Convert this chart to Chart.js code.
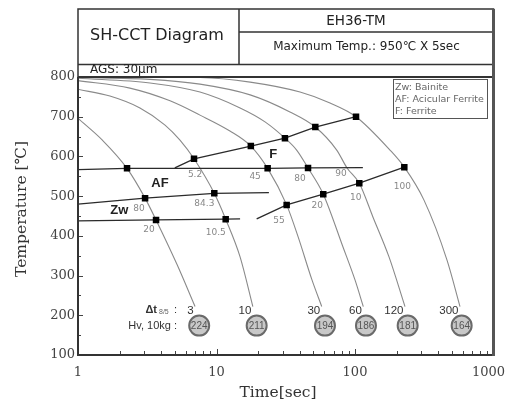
<!DOCTYPE html>
<html>
<head>
<meta charset="utf-8">
<script src="https://cdn.jsdelivr.net/npm/chart.js@4.4.1/dist/chart.umd.min.js"></script>
<style>
  body { margin: 0; background: #fff; }
  #chart { display: block; }
</style>
</head>
<body>
<canvas id="chart" width="506" height="403"></canvas>
<script>
// axis ticks
const timeTicks = [1, 10, 100, 1000];
const tempTicks = [100, 200, 300, 400, 500, 600, 700, 800];

// cooling curves (time in sec, temperature in C), one per dt 8/5
const dtLabels = ['3', '10', '30', '60', '120', '300'];
const curve3Time = [1, 1.5, 2.26, 3.05, 3.66, 5.2, 7.0];
const curve3Temp = [696, 641, 570, 495, 440, 327, 222];
const curve10Time = [1, 1.7, 2.8, 4.25, 5.45, 6.88, 9.64, 11.65, 14.8, 18.3];
const curve10Temp = [769, 752, 722, 679, 641, 594, 507, 442, 347, 222];
const curve30Time = [1, 2.37, 4.62, 7.6, 12.5, 17.7, 23.4, 32.1, 38.8, 48.9, 57.5];
const curve30Temp = [791, 772, 740, 704, 664, 626, 570, 478, 398, 289, 222];
const curve60Time = [1, 3.31, 7.6, 14.8, 22.4, 31.2, 37.9, 45.8, 59.0, 81.9, 100, 114.8];
const curve60Temp = [797, 785, 762, 722, 687, 646, 616, 571, 505, 372, 289, 222];
const curve120Time = [1, 3.31, 7.6, 17.5, 33.9, 51.7, 73.8, 87.6, 107.4, 134.9, 176, 229.6];
const curve120Temp = [799, 794, 782, 755, 712, 674, 616, 571, 532.5, 447, 347, 222];
const curve300Time = [1, 3.31, 7.6, 17.5, 40.1, 66, 101.7, 178.9, 227, 314.9, 461.7, 573];
const curve300Temp = [800, 799.5, 798.7, 787, 762, 734.5, 700, 616, 573, 490, 339, 222];

// hardness Hv 10kg
const hardness = [224, 211, 194, 186, 181, 164];
const hardnessTime = [7.5, 19.5, 60.7, 120, 240, 589];
const hardnessTemp = [174, 174, 174, 174, 174, 174];

// transformation lines
const afStartTime = [1, 2.26, 23.4, 45.8, 114];
const afStartTemp = [567, 570, 570, 571, 572];
const fStartTime = [5.0, 6.88, 17.7, 31.2, 51.7, 101.7];
const fStartTemp = [571, 594, 626, 646, 674, 700];
const afEndTime = [1, 3.05, 9.64, 23.9];
const afEndTemp = [480, 495, 507, 509];
const zwTime = [1, 3.66, 11.65, 14.8];
const zwTemp = [437.5, 440, 442, 442.6];
const fEndTime = [19.5, 32.1, 59.0, 107.4, 227];
const fEndTemp = [442.6, 478, 505, 532.5, 573];

// square markers
const markerTime = [2.26, 6.88, 17.7, 31.2, 51.7, 101.7, 23.4, 45.8, 3.05, 9.64, 3.66, 11.65, 32.1, 59.0, 107.4, 227];
const markerTemp = [570, 594, 626, 646, 674, 700, 570, 571, 495, 507, 440, 442, 478, 505, 532.5, 573];

// fraction labels
const fracText = ['5.2', '45', '80', '90', '100', '10', '20', '55', '80', '84.3', '20', '10.5'];
const fracTime = [7.0, 19.0, 40.1, 79.2, 219.5, 101.2, 53.4, 28.3, 2.76, 8.17, 3.26, 9.87];
const fracTemp = [555, 549, 543, 557, 525, 496, 476, 438, 469, 482, 416, 409];

// phase region labels
const phaseText = ['F', 'AF', 'Zw'];
const phaseTime = [25.7, 3.91, 1.99];
const phaseTemp = [605, 532, 463];

const pts = (xs, ys) => xs.map((v, i) => ({x: v, y: ys[i]}));

const curves = [
    [curve3Time, curve3Temp], [curve10Time, curve10Temp], [curve30Time, curve30Temp],
    [curve60Time, curve60Temp], [curve120Time, curve120Temp], [curve300Time, curve300Temp]
];

const datasets = [];
curves.forEach(c => {
    datasets.push({
        data: pts(c[0], c[1]),
        order: 4,
        borderColor: '#8a8a8a',
        borderWidth: 1.1,
        pointRadius: 0,
        cubicInterpolationMode: 'monotone'
    });
});
[[afStartTime, afStartTemp], [fStartTime, fStartTemp], [afEndTime, afEndTemp],
 [zwTime, zwTemp], [fEndTime, fEndTemp]].forEach(l => {
    datasets.push({
        data: pts(l[0], l[1]),
        order: 3,
        borderColor: '#2b2b2b',
        borderWidth: 1.3,
        pointRadius: 0,
        tension: 0
    });
});
datasets.push({
    data: pts(markerTime, markerTemp),
    order: 2,
    showLine: false,
    pointStyle: 'rect',
    pointRadius: 4.6,
    pointBorderWidth: 0,
    pointBackgroundColor: '#000'
});
datasets.push({
    data: pts(hardnessTime, hardnessTemp),
    order: 1,
    showLine: false,
    pointStyle: 'circle',
    pointRadius: 10,
    pointBorderWidth: 2,
    pointBorderColor: '#6a6a6a',
    pointBackgroundColor: '#c8c8c8'
});

const decorations = {
    id: 'decorations',
    beforeDraw(chart) {
        const ctx = chart.ctx;
        ctx.save();
        ctx.fillStyle = '#fff';
        ctx.fillRect(0, 0, chart.width, chart.height);
        ctx.restore();
    },
    afterDatasetsDraw(chart) {
        const {ctx, chartArea: a, scales: {x, y}} = chart;
        ctx.save();

        // inward ticks
        ctx.strokeStyle = '#444';
        ctx.lineWidth = 1;
        ctx.beginPath();
        [1, 10, 100].forEach(d => {
            for (let k = 1; k <= 9; k++) {
                const v = k * d;
                if (v === 1) continue;
                const px = Math.round(x.getPixelForValue(v)) + 0.5;
                const len = k === 1 ? 6 : 4;
                ctx.moveTo(px, a.bottom);
                ctx.lineTo(px, a.bottom - len);
            }
        });
        tempTicks.forEach((t, i) => {
            const py = Math.round(y.getPixelForValue(t)) + 0.5;
            ctx.moveTo(a.left, py);
            ctx.lineTo(a.left + 5, py);
            if (i < tempTicks.length - 1) {
                const pm = Math.round(y.getPixelForValue(t + 50)) + 0.5;
                ctx.moveTo(a.left, pm);
                ctx.lineTo(a.left + 3, pm);
            }
        });
        ctx.stroke();

        // x tick labels, last one kept inside the page
        ctx.fillStyle = '#444';
        ctx.font = '13px "DejaVu Serif"';
        ctx.textAlign = 'center';
        ctx.textBaseline = 'middle';
        timeTicks.forEach(v => {
            const s = String(v);
            const w = ctx.measureText(s).width;
            const px = Math.min(x.getPixelForValue(v), chart.width - 1 - w / 2);
            ctx.fillText(s, px, a.bottom + 18);
        });

        // axis titles
        ctx.fillStyle = '#333';
        ctx.font = '15.5px "DejaVu Serif"';
        ctx.fillText('Time[sec]', 278, 393);
        ctx.save();
        ctx.translate(22, 209);
        ctx.rotate(-Math.PI / 2);
        ctx.fillText('Temperature [\u2103]', 0, 0);
        ctx.restore();

        // header boxes and frame
        const top = 9, rowMid = 32, headBottom = 64.5;
        ctx.strokeStyle = '#333';
        ctx.lineWidth = 1.5;
        ctx.strokeRect(a.left, top, a.right - a.left, a.bottom - top);
        ctx.beginPath();
        ctx.moveTo(a.left, headBottom); ctx.lineTo(a.right, headBottom);
        ctx.moveTo(239, top); ctx.lineTo(239, headBottom);
        ctx.moveTo(239, rowMid); ctx.lineTo(a.right, rowMid);
        ctx.stroke();
        ctx.lineWidth = 2;
        ctx.beginPath();
        ctx.moveTo(a.left, a.top); ctx.lineTo(a.right, a.top);
        ctx.moveTo(a.left, a.top); ctx.lineTo(a.left, a.bottom);
        ctx.lineTo(a.right, a.bottom);
        ctx.stroke();
        ctx.lineWidth = 3;
        ctx.strokeStyle = '#555';
        ctx.beginPath();
        ctx.moveTo(a.right, top); ctx.lineTo(a.right, a.bottom + 1);
        ctx.stroke();

        ctx.fillStyle = '#222';
        ctx.textBaseline = 'middle';
        ctx.textAlign = 'center';
        ctx.font = '16px "DejaVu Sans"';
        ctx.fillText('SH-CCT Diagram', 157, 36);
        ctx.font = '13.5px "DejaVu Sans"';
        ctx.fillText('EH36-TM', 356, 21);
        ctx.font = '12px "DejaVu Sans"';
        ctx.fillText('Maximum Temp.: 950\u2103 X 5sec', 366.5, 47);
        ctx.textAlign = 'left';
        ctx.fillText('AGS: 30\u03bcm', 90, 70);

        // abbreviation box
        ctx.strokeStyle = '#555';
        ctx.lineWidth = 1;
        ctx.strokeRect(393.5, 79.5, 94, 39);
        ctx.fillStyle = '#666';
        ctx.font = '9.5px "DejaVu Sans"';
        ctx.fillText('Zw: Bainite', 395, 87.5);
        ctx.fillText('AF: Acicular Ferrite', 395, 100);
        ctx.fillText('F: Ferrite', 395, 111.5);

        // fraction labels
        ctx.textAlign = 'center';
        ctx.fillStyle = '#888';
        ctx.font = '9px "DejaVu Sans"';
        fracText.forEach((s, i) => {
            ctx.fillText(s, x.getPixelForValue(fracTime[i]), y.getPixelForValue(fracTemp[i]));
        });

        // phase labels
        ctx.fillStyle = '#222';
        ctx.font = 'bold 13px "Liberation Sans"';
        phaseText.forEach((s, i) => {
            ctx.fillText(s, x.getPixelForValue(phaseTime[i]), y.getPixelForValue(phaseTemp[i]));
        });

        // dt 8/5 labels at the curve ends
        ctx.textAlign = 'right';
        ctx.fillStyle = '#333';
        ctx.font = '11.5px "Liberation Sans"';
        curves.forEach((c, i) => {
            const n = c[0].length - 1;
            ctx.fillText(dtLabels[i], x.getPixelForValue(c[0][n]) - 1.5, y.getPixelForValue(c[1][n]) + 4);
        });
        const ax = x.getPixelForValue(5.1);
        const rowDt = y.getPixelForValue(213);
        const rowHv = y.getPixelForValue(174);
        ctx.font = '11px "Liberation Sans"';
        ctx.fillText(':', ax + 1, rowDt);
        ctx.fillText('Hv, 10kg :', ax + 1, rowHv);
        ctx.font = 'bold 11px "Liberation Sans"';
        ctx.fillText('\u0394t', ax - 19, rowDt);
        ctx.textAlign = 'left';
        ctx.font = '7px "Liberation Sans"';
        ctx.fillStyle = '#666';
        ctx.fillText('8/5', ax - 17, rowDt + 2);

        // hardness values in circles
        ctx.textAlign = 'center';
        ctx.fillStyle = '#555';
        ctx.font = '10px "Liberation Sans"';
        hardness.forEach((h, i) => {
            ctx.fillText(String(h), x.getPixelForValue(hardnessTime[i]), y.getPixelForValue(hardnessTemp[i]) + 0.5);
        });
        ctx.restore();
    }
};

const axisFont = {family: 'DejaVu Serif', size: 13};

new Chart(document.getElementById('chart'), {
    type: 'line',
    data: {datasets: datasets},
    options: {
        responsive: false,
        animation: false,
        events: [],
        layout: {padding: {top: 77, right: 12.5, left: 0, bottom: 0}},
        plugins: {legend: {display: false}, tooltip: {enabled: false}},
        scales: {
            x: {
                type: 'logarithmic',
                min: 1,
                max: 1000,
                afterBuildTicks: s => { s.ticks = timeTicks.map(v => ({value: v})); },
                afterFit: s => { s.height = 48; s.paddingLeft = 0; s.paddingRight = 0; },
                ticks: {display: false},
                grid: {display: false, drawTicks: false},
                border: {display: false}
            },
            y: {
                min: 100,
                max: 800,
                afterBuildTicks: s => { s.ticks = tempTicks.map(v => ({value: v})); },
                afterFit: s => { s.width = 78; s.paddingTop = 0; s.paddingBottom = 0; },
                ticks: {
                    padding: 3,
                    color: '#444',
                    font: axisFont
                },
                grid: {display: false, drawTicks: false},
                border: {display: false}
            }
        }
    },
    plugins: [decorations]
});
</script>
</body>
</html>
